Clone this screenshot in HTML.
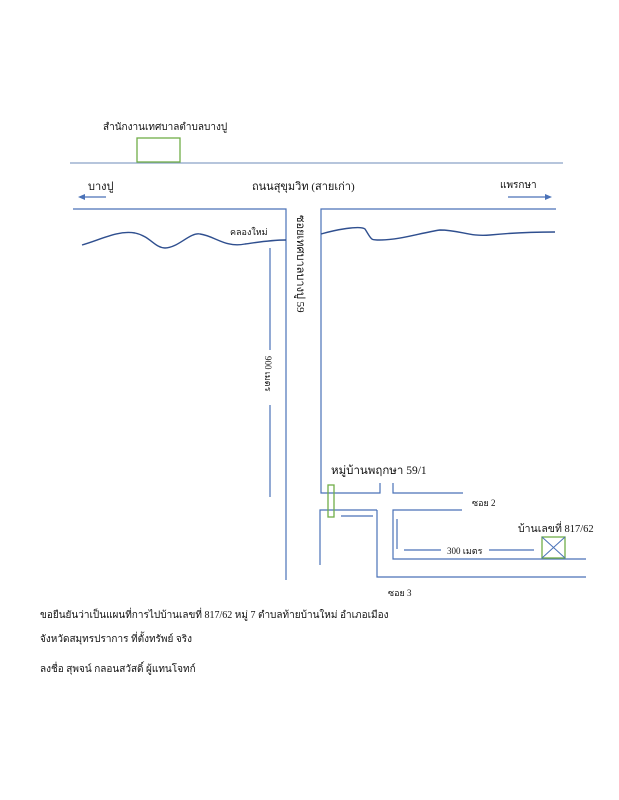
<!DOCTYPE html>
<html><head><meta charset="utf-8"><style>
html,body{margin:0;padding:0;background:#fff}
svg{display:block}
text{font-family:"Liberation Serif","DejaVu Serif",serif;fill:#111}
</style></head><body>
<svg width="619" height="800" viewBox="0 0 619 800" xmlns="http://www.w3.org/2000/svg">
<g stroke="#4a72b8" stroke-width="1.2" fill="none">
<line x1="70" y1="163" x2="563" y2="163" stroke="#8aa2c8"/>
<polyline points="73,209 286,209 286,580"/>
<polyline points="556,209 321,209 321,493 380,493 380,483"/>
<polyline points="393,483 393,493 463,493"/>
<polyline points="377,510 320,510 320,565"/>
<polyline points="377,510 377,577 586,577"/>
<polyline points="462,510 393,510 393,559 586,559"/>
<line x1="341" y1="516" x2="373" y2="516"/>
<line x1="397" y1="519" x2="397" y2="549"/>
<line x1="404" y1="550" x2="441" y2="550"/>
<line x1="489" y1="550" x2="534" y2="550"/>
<line x1="270" y1="248" x2="270" y2="350"/>
<line x1="270" y1="405" x2="270" y2="497"/>
<line x1="84" y1="197" x2="106" y2="197"/>
<line x1="508" y1="197" x2="545" y2="197"/>
</g>
<polygon points="78,197 85,194 85,200" fill="#4a72b8"/>
<polygon points="552,197 545,194 545,200" fill="#4a72b8"/>
<g stroke="#2f4f8f" stroke-width="1.4" fill="none">
<path d="M82,245 C100,240 118,230 135,233 C150,236 155,248 165,248 C178,248 190,232 200,234 C215,236 225,248 245,244 C260,242 270,240 286,240"/>
<path d="M321,234 C335,230 360,225 365,229 C372,240 370,240 380,240 C400,240 420,233 440,230 C460,230 470,237 490,235 C520,232 540,232 555,232"/>
</g>
<rect x="137" y="138" width="43" height="24" fill="none" stroke="#70ad47" stroke-width="1.3"/>
<rect x="328" y="485" width="6" height="32" fill="none" stroke="#70ad47" stroke-width="1.3"/>
<rect x="542" y="537" width="23" height="21" fill="none" stroke="#70ad47" stroke-width="1.3"/>
<path d="M542,537 L565,558 M565,537 L542,558" stroke="#4a72b8" stroke-width="1"/>
<text x="103" y="130" font-size="10">สำนักงานเทศบาลตำบลบางปู</text>
<text x="88" y="190" font-size="11">บางปู</text>
<text x="252" y="190" font-size="11">ถนนสุขุมวิท (สายเก่า)</text>
<text x="500" y="188" font-size="10">แพรกษา</text>
<text x="230" y="235" font-size="9">คลองใหม่</text>
<text transform="translate(297,215) rotate(90)" font-size="11">ซอยเทศบาลบางปู 59</text>
<text transform="translate(265,356) rotate(90)" font-size="9">900 เมตร</text>
<text x="331" y="474" font-size="11.5">หมู่บ้านพฤกษา 59/1</text>
<text x="472" y="506" font-size="9">ซอย 2</text>
<text x="518" y="532" font-size="10.5">บ้านเลขที่ 817/62</text>
<text x="447" y="554" font-size="9">300 เมตร</text>
<text x="388" y="596" font-size="9">ซอย 3</text>
<text x="40" y="618" font-size="10">ขอยืนยันว่าเป็นแผนที่การไปบ้านเลขที่ 817/62 หมู่ 7 ตำบลท้ายบ้านใหม่ อำเภอเมือง</text>
<text x="40" y="642" font-size="10">จังหวัดสมุทรปราการ ที่ตั้งทรัพย์  จริง</text>
<text x="40" y="672" font-size="10">ลงชื่อ  สุพจน์ กลอนสวัสดิ์  ผู้แทนโจทก์</text>
</svg>
</body></html>
